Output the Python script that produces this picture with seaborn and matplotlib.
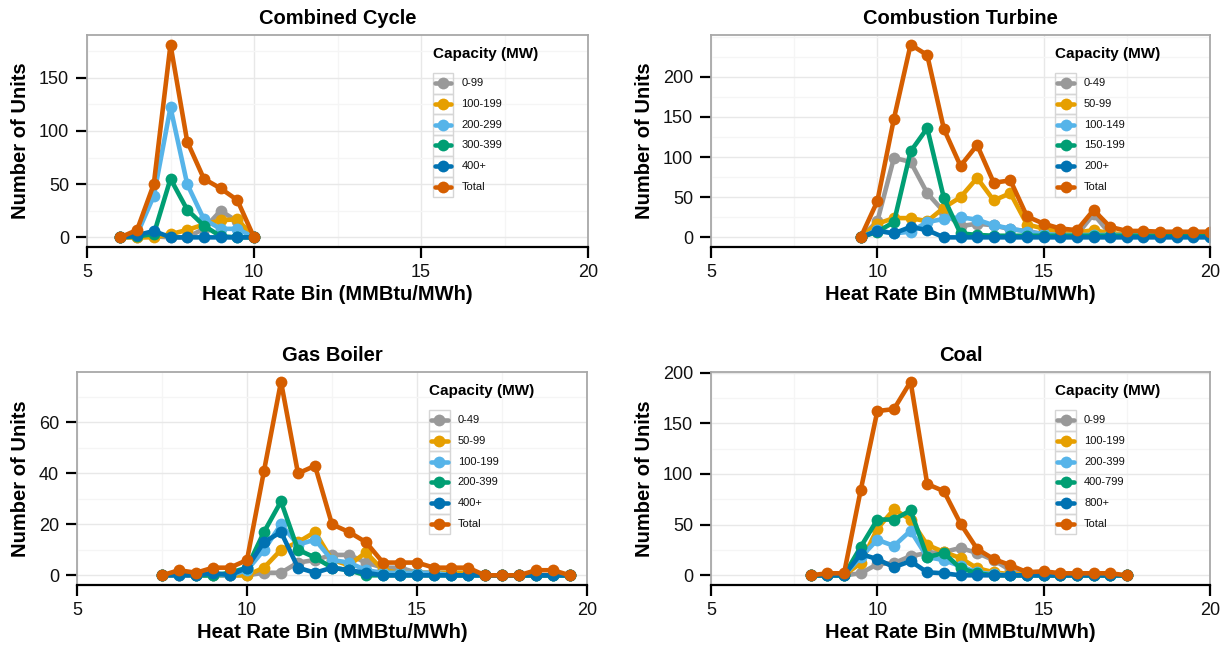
import numpy as np
import pandas as pd
import matplotlib
matplotlib.use("Agg")
import matplotlib.pyplot as plt
import seaborn as sns
from matplotlib.patches import Rectangle
from matplotlib.lines import Line2D
from matplotlib.ticker import MultipleLocator

sns.set_theme(style="white")
plt.rcParams['font.family'] = ['Liberation Sans', 'DejaVu Sans']

colors = ["#999999", "#E69F00", "#56B4E9", "#009E73", "#0072B2", "#D55E00"]

# ---------------- data ----------------
cc_bins = [6.0, 6.5, 7.0, 7.5, 8.0, 8.5, 9.0, 9.5, 10.0]
cc_labels = ["0-99", "100-199", "200-299", "300-399", "400+", "Total"]
cc_0_99 = [0, 0, 1, 0, 0, 8, 25, 15, 0]
cc_100_199 = [0, 0, 0, 3, 7, 12, 16, 17, 0]
cc_200_299 = [0, 3, 39, 122, 50, 17, 8, 8, 0]
cc_300_399 = [0, 1, 3, 55, 26, 11, 1, 0, 0]
cc_400p = [0, 2, 6, 0, 0, 0, 0, 0, 0]
cc_total = [0, 7, 50, 181, 90, 55, 46, 35, 0]

ct_bins = [9.5, 10.0, 10.5, 11.0, 11.5, 12.0, 12.5, 13.0, 13.5, 14.0, 14.5,
           15.0, 15.5, 16.0, 16.5, 17.0, 17.5, 18.0, 18.5, 19.0, 19.5, 20.0]
ct_labels = ["0-49", "50-99", "100-149", "150-199", "200+", "Total"]
ct_0_49 = [0, 20, 99, 94, 55, 32, 14, 17, 15, 10, 8, 4, 3, 3, 29, 4, 3, 3, 3, 3, 3, 3]
ct_50_99 = [0, 17, 24, 24, 20, 37, 50, 74, 46, 55, 16, 11, 7, 6, 9, 5, 4, 4, 4, 4, 4, 4]
ct_100_149 = [0, 9, 5, 7, 19, 23, 25, 22, 15, 11, 7, 4, 3, 3, 3, 3, 3, 3, 3, 3, 3, 3]
ct_150_199 = [0, 7, 19, 107, 136, 49, 5, 3, 2, 2, 2, 2, 2, 2, 2, 2, 2, 2, 2, 2, 2, 2]
ct_200p = [0, 8, 5, 13, 9, 0, 0, 0, 0, 0, 0, 0, 0, 0, 0, 0, 0, 0, 0, 0, 0, 0]
ct_total = [0, 45, 148, 240, 227, 135, 89, 115, 68, 71, 26, 17, 11, 9, 34, 13, 8, 8, 7, 7, 7, 7]

gb_bins = [7.5, 8.0, 8.5, 9.0, 9.5, 10.0, 10.5, 11.0, 11.5, 12.0, 12.5, 13.0, 13.5,
           14.0, 14.5, 15.0, 15.5, 16.0, 16.5, 17.0, 17.5, 18.0, 18.5, 19.0, 19.5]
gb_labels = ["0-49", "50-99", "100-199", "200-399", "400+", "Total"]
gb_0_49 = [0, 0, 0, 0, 0, 0, 1, 1, 5, 6, 8, 8, 5, 3, 3, 1, 1, 1, 1, 0, 0, 0, 0, 0, 0]
gb_50_99 = [0, 0, 0, 0, 0, 0, 3, 10, 13, 17, 6, 4, 9, 2, 1, 1, 1, 1, 1, 0, 0, 0, 0, 0, 0]
gb_100_199 = [0, 0, 0, 0, 0, 2, 10, 20, 12, 14, 6, 5, 2, 1, 1, 1, 1, 0, 0, 0, 0, 0, 0, 0, 0]
gb_200_399 = [0, 1, 0, 0, 1, 3, 17, 29, 10, 7, 3, 2, 0, 0, 0, 0, 0, 0, 0, 0, 0, 0, 0, 0, 0]
gb_400p = [0, 0, 0, 1, 0, 3, 13, 17, 3, 1, 3, 2, 1, 0, 0, 0, 0, 0, 0, 0, 0, 0, 0, 0, 0]
gb_total = [0, 2, 1, 3, 3, 6, 41, 76, 40, 43, 20, 17, 13, 5, 5, 5, 3, 3, 3, 0, 0, 0, 2, 2, 0]

co_bins = [8.0, 8.5, 9.0, 9.5, 10.0, 10.5, 11.0, 11.5, 12.0, 12.5, 13.0, 13.5,
           14.0, 14.5, 15.0, 15.5, 16.0, 16.5, 17.0, 17.5]
co_labels = ["0-99", "100-199", "200-399", "400-799", "800+", "Total"]
co_0_99 = [0, 0, 0, 2, 11, 12, 19, 22, 23, 27, 22, 15, 5, 2, 0, 0, 0, 0, 0, 0]
co_100_199 = [0, 0, 0, 12, 46, 65, 55, 30, 23, 17, 7, 3, 1, 1, 0, 0, 0, 0, 0, 0]
co_200_399 = [0, 0, 0, 18, 35, 29, 44, 18, 15, 9, 3, 1, 0, 0, 0, 0, 0, 0, 0, 0]
co_400_799 = [0, 0, 0, 28, 55, 55, 64, 18, 22, 7, 2, 0, 0, 0, 0, 0, 0, 0, 0, 0]
co_800p = [0, 0, 0, 21, 16, 8, 14, 3, 2, 0, 0, 0, 0, 0, 0, 0, 0, 0, 0, 0]
co_total = [0, 2, 2, 84, 162, 164, 191, 90, 83, 51, 26, 16, 10, 3, 4, 2, 2, 2, 2, 0]

x_ticks = [5, 10, 15, 20]

panels = [
    dict(title="Combined Cycle", bins=cc_bins, labels=cc_labels,
         series=[cc_0_99, cc_100_199, cc_200_299, cc_300_399, cc_400p, cc_total],
         yticks=[0, 50, 100, 150], px=(87, 35, 588, 247)),
    dict(title="Combustion Turbine", bins=ct_bins, labels=ct_labels,
         series=[ct_0_49, ct_50_99, ct_100_149, ct_150_199, ct_200p, ct_total],
         yticks=[0, 50, 100, 150, 200], px=(711, 35, 1210, 247)),
    dict(title="Gas Boiler", bins=gb_bins, labels=gb_labels,
         series=[gb_0_49, gb_50_99, gb_100_199, gb_200_399, gb_400p, gb_total],
         yticks=[0, 20, 40, 60], px=(77, 372, 587, 585)),
    dict(title="Coal", bins=co_bins, labels=co_labels,
         series=[co_0_99, co_100_199, co_200_399, co_400_799, co_800p, co_total],
         yticks=[0, 50, 100, 150, 200], px=(711, 372, 1210, 585)),
]

W, H = 1225, 649
fig = plt.figure(figsize=(W / 100, H / 100), dpi=100)
fig.patch.set_facecolor("white")

LW = 3.3
MS = 8.5

for p in panels:
    l, t, r, b = p["px"]
    pw, ph = r - l, b - t
    ax = fig.add_axes([l / W, 1 - b / H, pw / W, ph / H])
    rows = []
    for lab, vals in zip(p["labels"], p["series"]):
        for xb, v in zip(p["bins"], vals):
            rows.append((xb, v, lab))
    df = pd.DataFrame(rows, columns=["bin", "units", "group"])
    sns.lineplot(data=df, x="bin", y="units", hue="group", hue_order=p["labels"],
                 palette=colors, marker="o", markersize=MS, markeredgewidth=0,
                 linewidth=LW, legend=False, ax=ax, estimator=None, sort=False)
    ymax = max(p["series"][-1])
    ax.set_xlim(5, 20)
    ax.set_ylim(-0.05 * ymax, 1.05 * ymax)
    ax.set_xticks(x_ticks)
    ax.set_yticks(p["yticks"])
    step = p["yticks"][1] - p["yticks"][0]
    ax.yaxis.set_minor_locator(MultipleLocator(step / 2))
    ax.xaxis.set_minor_locator(MultipleLocator(2.5))
    ax.grid(True, which="major", color="#E8E8E8", linewidth=1.0)
    ax.grid(True, which="minor", color="#F5F5F5", linewidth=1.0)
    ax.set_axisbelow(True)
    for s in ["left", "top", "right"]:
        ax.spines[s].set_color("#A8A8A8")
        ax.spines[s].set_linewidth(1.3)
    ax.spines["bottom"].set_color("black")
    ax.spines["bottom"].set_linewidth(1.6)
    ax.tick_params(axis="both", which="major", length=8, width=1.6, color="black",
                   labelsize=13, labelcolor="#111111", direction="out")
    ax.tick_params(axis="x", which="major", pad=4, bottom=True)
    ax.tick_params(axis="y", which="major", pad=5, left=True)
    ax.tick_params(which="minor", length=0)
    ax.set_xlabel("Heat Rate Bin (MMBtu/MWh)", fontsize=14.5, fontweight="bold",
                  labelpad=3, color="black")
    ax.set_ylabel("Number of Units", fontsize=14.5, fontweight="bold", labelpad=6,
                  color="black")
    ax.set_title(p["title"], fontsize=14.5, fontweight="bold", pad=8, color="black")

    # legend (ggplot style, inside panel)
    x0 = 0.69
    bw, bh = 20.7 / pw, 20.7 / ph
    ax.text(x0, 1 - 19 / ph, "Capacity (MW)", transform=ax.transAxes, ha="left",
            va="center", fontsize=11, fontweight="bold", color="black", zorder=6)
    for i, (lab, c) in enumerate(zip(p["labels"], colors)):
        top = 1 - (38 + i * 20.7) / ph
        ax.add_patch(Rectangle((x0, top - bh), bw, bh, transform=ax.transAxes,
                               facecolor="none", edgecolor="#D6D6D6", linewidth=1.0,
                               clip_on=False, zorder=5))
        yc = top - bh / 2
        ax.add_line(Line2D([x0 + 2 / pw, x0 + bw - 2 / pw], [yc, yc], color=c,
                           linewidth=LW, transform=ax.transAxes, clip_on=False, zorder=6))
        ax.add_line(Line2D([x0 + bw / 2], [yc], color=c, marker="o", markersize=MS,
                           markeredgewidth=0, transform=ax.transAxes, clip_on=False, zorder=7))
        ax.text(x0 + bw + 8 / pw, yc, lab, transform=ax.transAxes, ha="left",
                va="center", fontsize=8, color="#111111", zorder=6)

fig.savefig("out.png", dpi=100, facecolor="white")
